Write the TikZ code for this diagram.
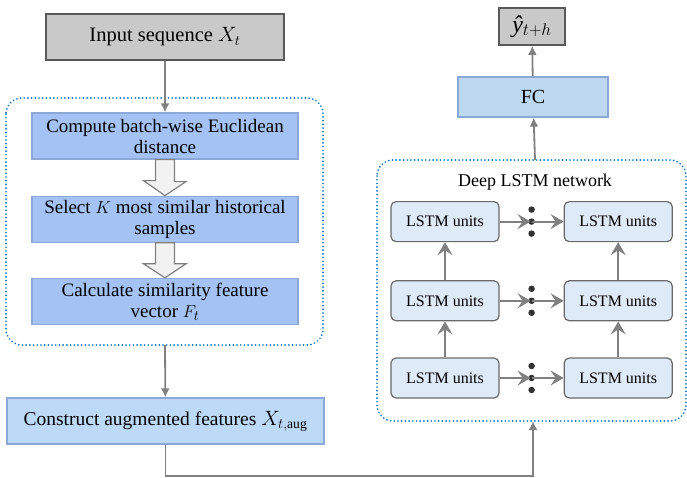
\documentclass[tikz,border=0pt]{standalone}
\usepackage{amsmath}
\usepackage{fontspec}
\setmainfont{Liberation Serif}
\usetikzlibrary{arrows.meta, positioning, calc}

\definecolor{boxgray}{RGB}{201,201,201}
\definecolor{edgegray}{RGB}{89,89,89}
\definecolor{linegray}{RGB}{128,128,128}
\definecolor{stepblue}{RGB}{164,194,244}
\definecolor{stepedge}{RGB}{140,168,214}
\definecolor{augblue}{RGB}{189,217,248}
\definecolor{fcblue}{RGB}{189,215,238}
\definecolor{lstmblue}{RGB}{222,234,247}
\definecolor{dotblue}{RGB}{0,112,192}
\definecolor{arrowfill}{RGB}{242,242,242}

\tikzset{
    iobox/.style={draw=edgegray, fill=boxgray, line width=1.6pt, inner sep=0pt},
    stepbox/.style={draw=stepedge, fill=stepblue, line width=1.2pt, minimum width=266pt,
        minimum height=46pt, align=center, inner sep=0pt, font=\fontsize{19}{21}\selectfont},
    lstmbox/.style={draw=edgegray!90, fill=lstmblue, line width=1.2pt, rounded corners=5pt,
        minimum width=108pt, minimum height=40pt, inner sep=0pt, font=\fontsize{16}{18}\selectfont},
    group/.style={draw=dotblue, line width=1.8pt, dash pattern=on 0.1pt off 3.6pt, line cap=round, rounded corners=16pt},
    link/.style={draw=linegray, line width=1.8pt, -{Latex[length=9pt, width=9pt]}},
    flow/.style={draw=linegray, line width=1.8pt, -{Stealth[length=13pt, width=15pt, inset=5pt]}},
    blockarrow/.style={draw=linegray, fill=arrowfill, line width=1.2pt, line join=miter},
    lstmdot/.style={circle, fill=black!80, inner sep=0pt, minimum size=6.5pt}
}

\begin{document}
\begin{tikzpicture}[x=1pt, y=-1pt, node distance=36pt and 64pt]
    \useasboundingbox (0,0) rectangle (687,477);

    % left branch
    \node[iobox, minimum width=238pt, minimum height=46pt, font=\fontsize{20.5}{22}\selectfont] (input) at (165,37) {Input sequence $X_t$};
    \node[stepbox] (dist) at (165,136) {Compute batch-wise Euclidean\\distance};
    \node[stepbox, below=of dist] (sel) {Select $K$ most similar historical\\samples};
    \node[stepbox, below=35pt of sel] (feat) {Calculate similarity feature\\vector $F_t$};
    \draw[group] (6,98) rectangle (323,345);
    \coordinate (simbottom) at (165,345);
    \node[stepbox, fill=augblue, minimum width=317pt, font=\fontsize{19.5}{22}\selectfont] (aug) at (165.5,421) {Construct augmented features $X_{t,\mathrm{aug}}$};

    \draw[link] (input) -- (dist);
    \draw[link] (simbottom) -- (aug);

    % block arrows between the steps
    \draw[blockarrow] ([xshift=-9.5pt]dist.south) -- ++(0,21) -- ++(-12,0) -- (sel.north)
        -- ++(21,-14) -- ++(-11.5,0) -- ([xshift=9.5pt]dist.south) -- cycle;
    \draw[blockarrow] ([xshift=-9.5pt]sel.south) -- ++(0,21) -- ++(-12,0) -- (feat.north)
        -- ++(21,-14) -- ++(-11.5,0) -- ([xshift=9.5pt]sel.south) -- cycle;

    % deep LSTM network
    \draw[group] (377,160) rectangle (686,421);
    \node[font=\fontsize{18}{20}\selectfont] (title) at (535,182) {Deep LSTM network};
    \coordinate (nettop) at (535,160);
    \coordinate (netbottom) at (533,421);

    \node[lstmbox] (l3) at (445,378) {LSTM units};
    \node[lstmbox, above=of l3] (l2) {LSTM units};
    \node[lstmbox, above=38pt of l2] (l1) {LSTM units};
    \node[lstmbox, right=of l3] (r3) {LSTM units};
    \node[lstmbox, right=of l2] (r2) {LSTM units};
    \node[lstmbox, right=of l1] (r1) {LSTM units};

    \foreach \row in {1,2,3} {
        \coordinate (mid\row) at ($(l\row.east)!0.5!(r\row.west)$);
        \node[lstmdot] at ([yshift=12pt]mid\row) {};
        \node[lstmdot] at (mid\row) {};
        \node[lstmdot] at ([yshift=-12pt]mid\row) {};
        \draw[flow] (l\row.east) -- ([xshift=-1pt]mid\row);
        \draw[flow] (mid\row) -- (r\row.west);
    }
    \draw[flow] (l3) -- (l2);
    \draw[flow] (l2) -- (l1);
    \draw[flow] (r3) -- (r2);
    \draw[flow] (r2) -- (r1);

    % output
    \node[stepbox, fill=fcblue, minimum width=150pt, minimum height=40pt, font=\fontsize{20}{22}\selectfont] (fc) at (533,97) {FC};
    \node[iobox, minimum width=66pt, minimum height=37pt, font=\fontsize{24}{26}\selectfont] (yhat) at (532,26.5) {\itshape ŷ$_{t+h}$};

    \draw[link] (nettop) -- (fc);
    \draw[link] (fc) -- (yhat);
    \draw[link] (aug.south) |- (165,476) -| (netbottom);
\end{tikzpicture}
\end{document}
